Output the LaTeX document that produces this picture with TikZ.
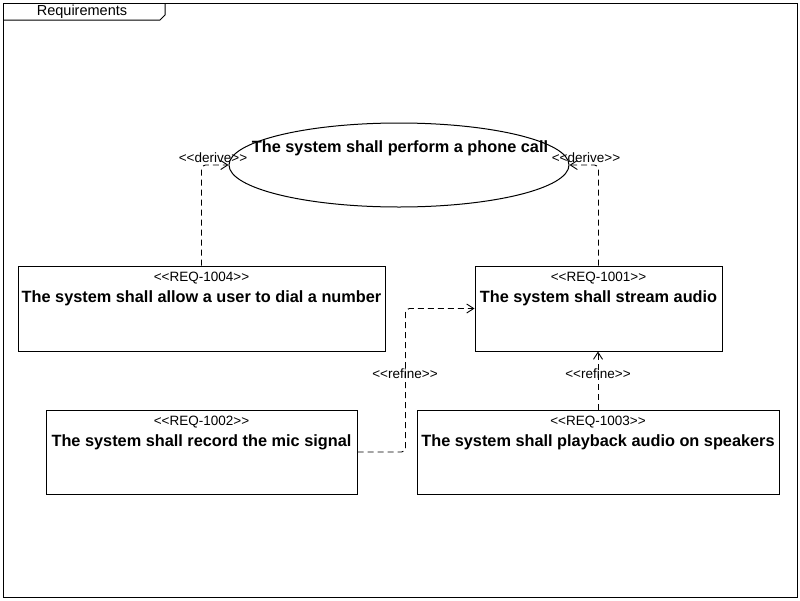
\documentclass[tikz,border=0pt]{standalone}
\usepackage{fontspec}
\setmainfont{Liberation Sans}
\usetikzlibrary{shapes.geometric,arrows.meta,calc}
\newcommand{\stl}{<{}<}
\newcommand{\str}{>{}>}
\begin{document}
\begin{tikzpicture}[x=1pt,y=-1pt,
  reqbox/.style={draw=black,line width=1pt,rectangle,inner sep=0pt},
  callshape/.style={draw=black,line width=1pt,ellipse,inner sep=0pt,minimum width=340pt,minimum height=84pt},
  stereo/.style={font=\fontsize{13.5}{15}\selectfont,inner sep=0pt},
  title/.style={font=\fontsize{16.3}{18}\selectfont\bfseries,inner sep=0pt},
  deplabel/.style={font=\fontsize{13.5}{15}\selectfont,inner sep=0pt},
  dep/.style={line width=0.9pt,dash pattern=on 6pt off 4pt,rounded corners=4pt,-{Straight Barb[length=7pt,width=9pt]}}
]
\useasboundingbox (0,0) rectangle (800,600);
% frame
\draw[line width=1pt] (3,3) rectangle (797,597);
\draw[line width=1pt] (3,20) -- (160,20) -- (165,15) -- (165,3);
\node[stereo,font=\fontsize{14.5}{16}\selectfont] (frametitle) at (82,12) {Requirements};
% ellipse
\node[callshape] (call) at (399,165) {};
\node[title] (calltext) at (400,148.5) {The system shall perform a phone call};
% boxes
\node[reqbox,minimum width=367pt,minimum height=85pt] (r1004) at (201.5,308.5) {};
\node[stereo] (r1004s) at (201.5,278.5) {\stl REQ-1004\str};
\node[title] (r1004t) at (201.5,298.5) {The system shall allow a user to dial a number};
\node[reqbox,minimum width=247pt,minimum height=85pt] (r1001) at (598.5,308.5) {};
\node[stereo] (r1001s) at (598.5,278.5) {\stl REQ-1001\str};
\node[title] (r1001t) at (598.5,298.5) {The system shall stream audio};
\node[reqbox,minimum width=311pt,minimum height=84pt] (r1002) at (201.5,452) {};
\node[stereo] (r1002s) at (201.5,422.5) {\stl REQ-1002\str};
\node[title] (r1002t) at (201.5,442.5) {The system shall record the mic signal};
\node[reqbox,minimum width=362pt,minimum height=84pt] (r1003) at (598,452) {};
\node[stereo] (r1003s) at (598,422.5) {\stl REQ-1003\str};
\node[title] (r1003t) at (598,442.5) {The system shall playback audio on speakers};
% connectors
\draw[dep] (r1004.north) |- (call.west);
\node[deplabel] (d1) at (213,158) {\stl derive\str};
\draw[dep] (r1001.north) |- (call.east);
\node[deplabel] (d2) at (586,158) {\stl derive\str};
\draw[dep] (r1002.east) -- ++(48,0) |- (r1001.west);
\node[deplabel] (f1) at (405,374) {\stl refine\str};
\draw[dep] (r1003.north) -- (r1003.north |- r1001.south);
\node[deplabel] (f2) at (598,374) {\stl refine\str};
\end{tikzpicture}
\end{document}
